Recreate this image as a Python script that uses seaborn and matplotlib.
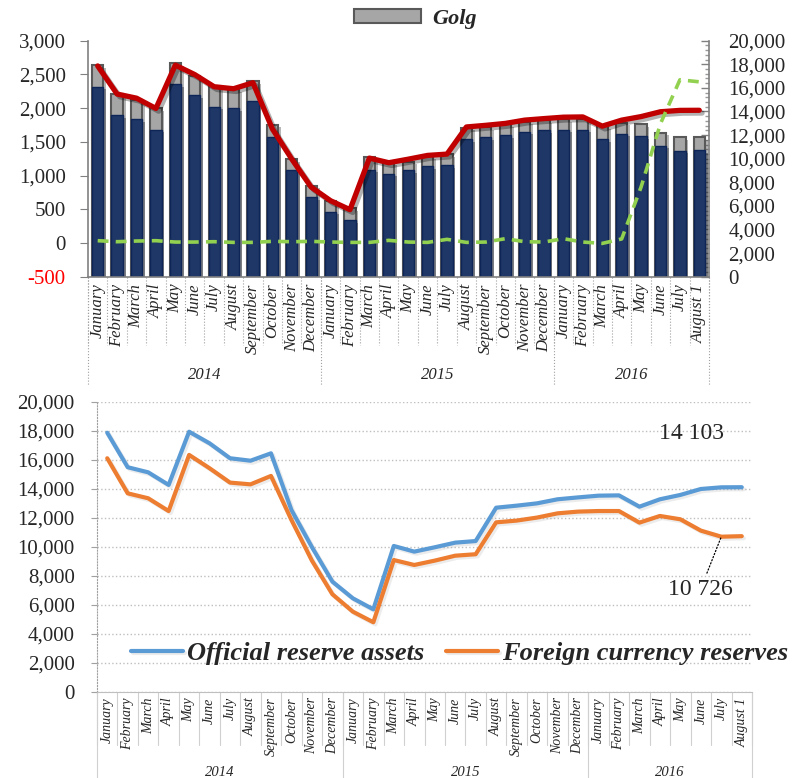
import numpy as np
import matplotlib
matplotlib.use("Agg")
import matplotlib.pyplot as plt
import matplotlib.patheffects as pe
from matplotlib.ticker import MultipleLocator, FuncFormatter
import seaborn as sns

# Data (USD millions)
months = ["January", "February", "March", "April", "May", "June", "July",
          "August", "September", "October", "November", "December"]
month_labels = months * 2 + months[:7] + ["August 1"]
years = ["2014", "2015", "2016"]
year_counts = [12, 12, 8]

official = [17860, 15480, 15130, 14260, 17930, 17130, 16100, 15930, 16440, 12530,
            9970, 7590, 6440, 5680, 10050, 9660, 9960, 10280, 10390, 12690,
            12830, 12990, 13270, 13400, 13520, 13540, 12760, 13270, 13570, 13980,
            14095, 14103]
fx_reserves = [16100, 13680, 13340, 12460, 16330, 15410, 14420, 14300, 14880, 11840,
               9040, 6720, 5520, 4790, 9080, 8740, 9040, 9380, 9480, 11680,
               11800, 12010, 12300, 12420, 12460, 12460, 11660, 12120, 11890, 11110,
               10690, 10726]
gold = [1800, 1780, 1610, 1810, 1750, 1610, 1700, 1580, 1720, 1050,
        930, 990, 930, 990, 1050, 990, 710, 850, 900, 960,
        900, 900, 850, 850, 900, 900, 1070, 930, 1050, 1100,
        1130, 1100]
other = [34, 19, 29, 34, 14, 14, 19, 9, 9, 24, 19, 24, 14, 9, 9, 39,
         14, 9, 54, 9, 14, 64, 19, 14, 64, 14, -6, 60, 830, 1770, 2420, 2390]

NAVY = "#1F3766"
GRAY = "#A6A6A6"
RED = "#C00000"
GREEN = "#92D050"
BLUE = "#5B9BD5"
ORANGE = "#ED7D31"
SERIF = "Liberation Serif"

sns.set_style("white")
plt.rcParams["font.family"] = [SERIF, "DejaVu Serif"]

idx = np.arange(len(month_labels))
total = np.array(fx_reserves) + np.array(gold)
comma = FuncFormatter(lambda v, p: f"{v:,.0f}")

fig = plt.figure(figsize=(8.03, 7.78), dpi=100)
W, H = 803, 778
ax1 = fig.add_axes([88 / W, 1 - 276.7 / H, 621 / W, 236 / H])
ax2 = fig.add_axes([97 / W, 1 - 691.7 / H, 655 / W, 290 / H])

# ---------------- top chart ----------------
shadow = [pe.SimplePatchShadow(offset=(2, -2), alpha=0.35), pe.Normal()]
lshadow = [pe.SimpleLineShadow(offset=(2, -2), alpha=0.3), pe.Normal()]
soft = [pe.SimpleLineShadow(offset=(1.5, -1.5), shadow_color="#999999", alpha=0.18),
        pe.Normal()]

sns.barplot(x=idx, y=total, color=GRAY, saturation=1, width=0.58,
            edgecolor="#595959", linewidth=1.5, ax=ax1)
sns.barplot(x=idx, y=fx_reserves, color=NAVY, saturation=1, width=0.58,
            edgecolor="#0E2557", linewidth=1.0, ax=ax1)
for p in ax1.patches:
    p.set_path_effects(shadow)
sns.lineplot(x=idx, y=official, color=RED, linewidth=3.8, ax=ax1,
             path_effects=lshadow)
ax1.set_xlim(-0.5, 31.5)
ax1.set_ylim(0, 20000)
ax1.yaxis.tick_right()
ax1.yaxis.set_major_locator(MultipleLocator(2000))
ax1.yaxis.set_minor_locator(MultipleLocator(400))
ax1.yaxis.set_major_formatter(comma)
ax1.tick_params(axis="y", which="major", direction="in", length=6, width=1,
                color="#808080", labelsize=15, pad=14, right=True, left=False)
ax1.tick_params(axis="y", which="minor", direction="in", length=3, width=1,
                color="#999999", right=True, left=False)
ax1.set_xticks(idx)
ax1.set_xticklabels(month_labels, rotation=90, style="italic", fontsize=12,
                    va="top", ha="center")
ax1.tick_params(axis="x", length=0, pad=5)
ax1.set_xlabel("")
ax1.set_ylabel("")
ax1.spines["top"].set_visible(False)
for s in ["left", "right", "bottom"]:
    ax1.spines[s].set_color("#808080")
    ax1.spines[s].set_linewidth(1.2)

ax1t = ax1.twinx()
sns.lineplot(x=idx, y=other, color=GREEN, linewidth=2.6, linestyle=(0, (3, 2)),
             ax=ax1t)
ax1t.set_ylim(-500, 3000)
ax1t.yaxis.tick_left()
ax1t.yaxis.set_major_locator(MultipleLocator(500))
ax1t.yaxis.set_major_formatter(comma)
ax1t.tick_params(axis="y", direction="out", length=6, color="#808080",
                 labelsize=15, pad=10, left=True, right=False)
ax1t.set_ylabel("")
for s in ax1t.spines.values():
    s.set_visible(False)
for lab in ax1t.get_yticklabels():
    if lab.get_text().startswith("-") or lab.get_text().startswith("\u2212"):
        lab.set_color("red")
ax1.yaxis.set_ticks_position("right")

# category separators and year labels below the top chart
tr1 = ax1.get_xaxis_transform()
for k in range(len(idx) + 1):
    ax1.plot([k - 0.5, k - 0.5], [0, -0.29], transform=tr1, clip_on=False,
             color="#A0A0A0", lw=0.8, ls=":")
start = 0
for yr, n in zip(years, year_counts):
    ax1.plot([start - 0.5, start - 0.5], [0, -0.46], transform=tr1,
             clip_on=False, color="#A0A0A0", lw=0.8, ls=":")
    ax1.text(start + n / 2 - 0.5, -0.415, yr, transform=tr1, ha="center",
             va="center", style="italic", fontsize=12)
    start += n
ax1.plot([start - 0.5, start - 0.5], [0, -0.46], transform=tr1,
         clip_on=False, color="#A0A0A0", lw=0.8, ls=":")

gold_handle = plt.Rectangle((0, 0), 1, 1, facecolor=GRAY, edgecolor="#595959",
                            linewidth=1.5)
fig.legend([gold_handle], ["Golg"], loc="center", bbox_to_anchor=(0.517, 0.976),
           frameon=False, handlelength=3.0, handleheight=0.6, handletextpad=0.5,
           prop={"family": SERIF, "weight": "bold", "style": "italic", "size": 16})

# ---------------- bottom chart ----------------
sns.lineplot(x=idx, y=official, color=BLUE, linewidth=3.0, ax=ax2,
             label="Official reserve assets", path_effects=soft)
sns.lineplot(x=idx, y=fx_reserves, color=ORANGE, linewidth=3.0, ax=ax2,
             label="Foreign currency reserves", path_effects=soft)
ax2.set_xlim(-0.5, 31.5)
ax2.set_ylim(0, 20000)
ax2.yaxis.set_major_locator(MultipleLocator(2000))
ax2.yaxis.set_major_formatter(comma)
ax2.grid(axis="y", color="#BFBFBF", linestyle=":", linewidth=1)
ax2.tick_params(axis="y", direction="out", length=4, color="#A0A0A0",
                labelsize=15, pad=12, left=True)
ax2.set_xticks(idx)
ax2.set_xticklabels(month_labels, rotation=90, style="italic", fontsize=10,
                    va="top", ha="center")
ax2.tick_params(axis="x", length=0, pad=4)
ax2.set_ylabel("")
for s in ["top", "right"]:
    ax2.spines[s].set_visible(False)
ax2.spines["left"].set_linestyle(":")
ax2.spines["left"].set_color("#A0A0A0")
ax2.spines["bottom"].set_color("#BFBFBF")

tr2 = ax2.get_xaxis_transform()
for k in range(len(idx) + 1):
    ax2.plot([k - 0.5, k - 0.5], [0, -0.184], transform=tr2, clip_on=False,
             color="#D0D0D0", lw=0.8)
start = 0
for yr, n in zip(years, year_counts):
    ax2.plot([start - 0.5, start - 0.5], [0, -0.3], transform=tr2,
             clip_on=False, color="#D0D0D0", lw=0.8)
    ax2.text(start + n / 2 - 0.5, -0.28, yr, transform=tr2, ha="center",
             va="center", style="italic", fontsize=10.5)
    start += n
ax2.plot([start - 0.5, start - 0.5], [0, -0.3], transform=tr2,
         clip_on=False, color="#D0D0D0", lw=0.8)

ax2.legend(loc="center", bbox_to_anchor=(0.554, 0.133), ncol=2, frameon=False,
           handlelength=1.97, handletextpad=0.15, columnspacing=0.83,
           borderpad=0, borderaxespad=0,
           prop={"family": SERIF, "weight": "bold", "style": "italic", "size": 19})

ax2.annotate(f"{official[-1]:,}".replace(",", " "), xy=(31, official[-1]),
             xytext=(-36, 39), textcoords="offset points", ha="center",
             va="center", fontsize=17)
ax2.annotate(f"{fx_reserves[-1]:,}".replace(",", " "), xy=(30, fx_reserves[-2]),
             xytext=(-15, -38), textcoords="offset points", ha="center",
             va="center", fontsize=17,
             arrowprops=dict(arrowstyle="-", linestyle=":", color="black",
                             lw=0.9, shrinkA=2, shrinkB=0))

fig.savefig("out.png", dpi=100)
